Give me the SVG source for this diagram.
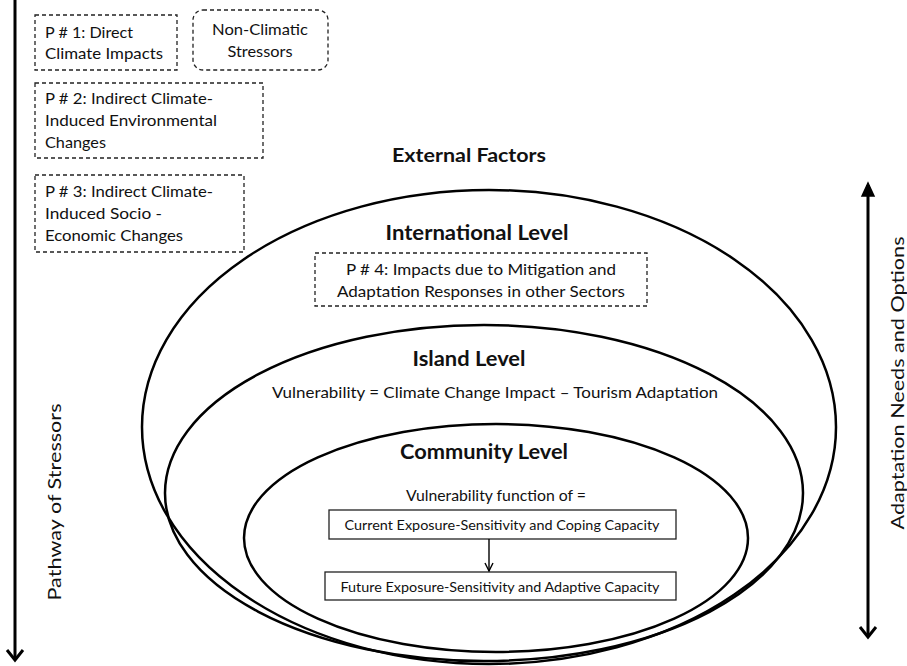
<svg xmlns="http://www.w3.org/2000/svg" width="907" height="666" viewBox="0 0 907 666">
<style>
text{font-family:Lato,"Liberation Sans",Arial,sans-serif;fill:#111}
.t{font-size:16px}
.s{font-size:15px}
.b{font-size:21px;font-weight:bold}
.dash{fill:none;stroke:#222;stroke-width:1.3;stroke-dasharray:4 3}
.ell{fill:none;stroke:#000;stroke-width:2.5}
.box{fill:#fff;stroke:#222;stroke-width:1.3}
.ln{fill:none;stroke:#000;stroke-width:3}
.c{text-anchor:middle}
</style>
<defs>
<marker id="ah" viewBox="0 0 10 10" refX="9" refY="5" markerWidth="10" markerHeight="10" orient="auto" markerUnits="userSpaceOnUse">
<path d="M1,1 L9,5 L1,9" fill="none" stroke="#000" stroke-width="1.4"/>
</marker>
</defs>
<rect width="907" height="666" fill="#fff"/>

<g id="international">
<ellipse class="ell" cx="489" cy="427" rx="347" ry="237"/>
<text class="b c" x="477" y="240" textLength="183" lengthAdjust="spacingAndGlyphs">International Level</text>
</g>
<g id="island">
<ellipse class="ell" cx="484" cy="493" rx="319" ry="168"/>
<text class="b c" x="469" y="366" textLength="113" lengthAdjust="spacingAndGlyphs">Island Level</text>
<text class="s c" x="495" y="398" textLength="446" lengthAdjust="spacingAndGlyphs">Vulnerability = Climate Change Impact – Tourism Adaptation</text>
</g>
<g id="community">
<ellipse class="ell" cx="496" cy="538" rx="252" ry="114"/>
<text class="b c" x="484" y="459" textLength="168" lengthAdjust="spacingAndGlyphs">Community Level</text>
<text class="s c" x="496" y="501" textLength="180" lengthAdjust="spacingAndGlyphs">Vulnerability function of =</text>
</g>

<g id="external-factors">
<text class="c" x="469" y="162" style="font-size:19px;font-weight:bold" textLength="154" lengthAdjust="spacingAndGlyphs">External Factors</text>
</g>

<g id="p1">
<rect class="dash" x="35" y="15" width="142" height="55"/>
<text class="t" x="45" y="38" textLength="88" lengthAdjust="spacingAndGlyphs">P # 1: Direct</text>
<text class="t" x="45" y="59" textLength="118" lengthAdjust="spacingAndGlyphs">Climate Impacts</text>
</g>
<g id="non-climatic">
<rect class="dash" x="193" y="10" width="135" height="60" rx="10" ry="10"/>
<text class="t c" x="260" y="35" textLength="96" lengthAdjust="spacingAndGlyphs">Non-Climatic</text>
<text class="t c" x="260" y="57" textLength="65" lengthAdjust="spacingAndGlyphs">Stressors</text>
</g>
<g id="p2">
<rect class="dash" x="35" y="83" width="228" height="75"/>
<text class="t" x="45" y="104" textLength="168" lengthAdjust="spacingAndGlyphs">P # 2: Indirect  Climate-</text>
<text class="t" x="45" y="126" textLength="172" lengthAdjust="spacingAndGlyphs">Induced Environmental</text>
<text class="t" x="45" y="148" textLength="61" lengthAdjust="spacingAndGlyphs">Changes</text>
</g>
<g id="p3">
<rect class="dash" x="35" y="175" width="209" height="77"/>
<text class="t" x="45" y="197" textLength="168" lengthAdjust="spacingAndGlyphs">P # 3: Indirect  Climate-</text>
<text class="t" x="45" y="219" textLength="117" lengthAdjust="spacingAndGlyphs">Induced  Socio -</text>
<text class="t" x="45" y="241" textLength="138" lengthAdjust="spacingAndGlyphs">Economic Changes</text>
</g>
<g id="p4">
<rect class="dash" x="315" y="253" width="332" height="53"/>
<text class="t c" x="481" y="275" textLength="270" lengthAdjust="spacingAndGlyphs">P # 4: Impacts due to Mitigation and</text>
<text class="t c" x="481" y="297" textLength="288" lengthAdjust="spacingAndGlyphs">Adaptation Responses in other Sectors</text>
</g>
<g id="current">
<rect class="box" x="329" y="510" width="347" height="29"/>
<text class="c" x="502" y="530" style="font-size:14px" textLength="315" lengthAdjust="spacingAndGlyphs">Current Exposure-Sensitivity and Coping Capacity</text>
</g>
<g id="future">
<rect class="box" x="325" y="572" width="351" height="28"/>
<text class="c" x="500" y="592" style="font-size:14px" textLength="319" lengthAdjust="spacingAndGlyphs">Future Exposure-Sensitivity and Adaptive Capacity</text>
</g>

<g id="pathway">
<text x="0" y="0" transform="translate(61,502) rotate(-90)" class="c" style="font-size:18px" textLength="197" lengthAdjust="spacingAndGlyphs">Pathway of Stressors</text>
</g>
<g id="adaptation">
<text x="0" y="0" transform="translate(904,383) rotate(-90)" class="c" style="font-size:18px" textLength="293" lengthAdjust="spacingAndGlyphs">Adaptation Needs and Options</text>
</g>

<g id="connectors">
<line x1="489" y1="539" x2="489" y2="571" stroke="#000" stroke-width="1.4" marker-end="url(#ah)"/>
<line class="ln" x1="15" y1="0" x2="15" y2="659"/>
<polyline class="ln" points="7,650 15,660 23,650"/>
<line class="ln" x1="868" y1="185" x2="868" y2="636"/>
<polygon points="862,196 868,183 874,196" fill="#000" stroke="#000" stroke-width="1.5"/>
<polyline class="ln" points="860,627 868,637 876,627"/>
</g>
</svg>
